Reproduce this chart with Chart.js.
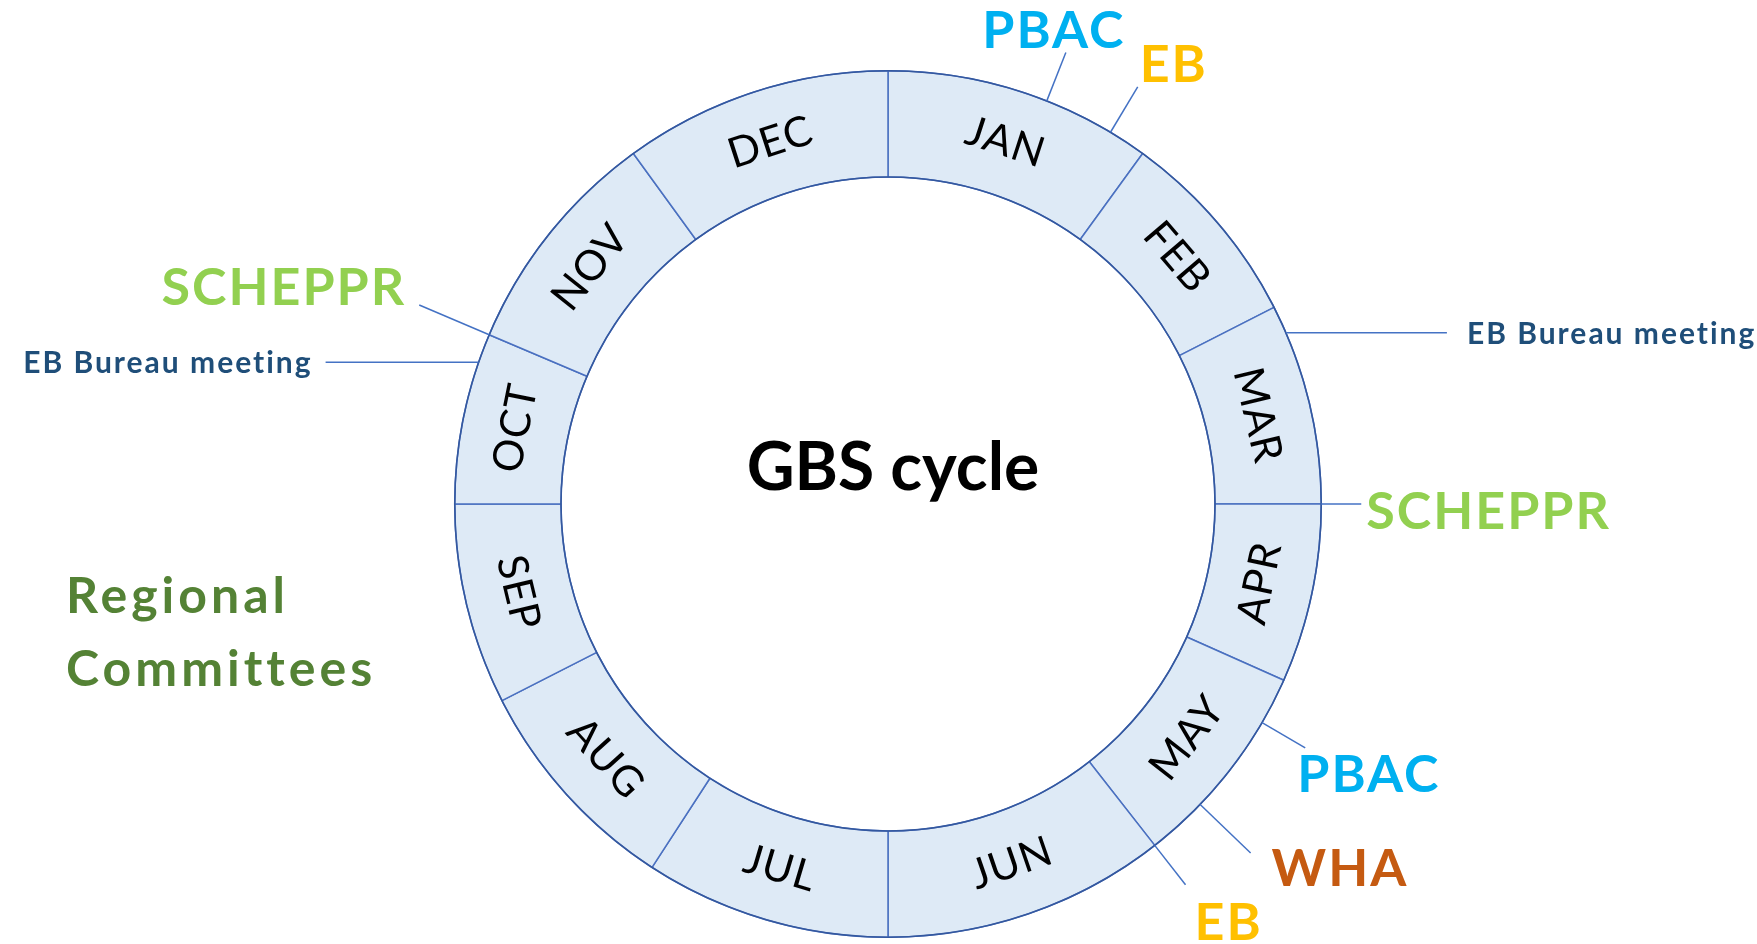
<!DOCTYPE html>
<html>
<head>
<meta charset="utf-8">
<title>GBS cycle</title>
<script src="https://cdn.jsdelivr.net/npm/chart.js@4.4.1/dist/chart.umd.min.js"></script>
<style>
    html, body { margin: 0; padding: 0; background: #ffffff; }
    #wrap { width: 1757px; height: 944px; position: relative; }
</style>
</head>
<body>
<div id="wrap"><canvas id="cycleChart" width="1757" height="944"></canvas></div>
<script>
// Months of the cycle and the share of the ring (degrees) each one takes
const months = ['JAN', 'FEB', 'MAR', 'APR', 'MAY', 'JUN', 'JUL', 'AUG', 'SEP', 'OCT', 'NOV', 'DEC'];
const monthSpans = [36, 27, 27, 24, 28, 38, 33, 30, 27, 23, 31, 36];

// Events and where they sit on the cycle (degrees clockwise from the top)
const eventNames = ['PBAC', 'EB', 'EB Bureau meeting', 'SCHEPPR', 'PBAC', 'WHA', 'EB', 'SCHEPPR', 'EB Bureau meeting'];
const eventAngles = [21.5, 30.9, 66.7, 90, 120.3, 133.9, 142, 293, 289.1];

const centerTitle = 'GBS cycle';
const sideNote = ['Regional', 'Committees'];

// How each event label is drawn (leader line and text placement)
const eventStyles = [
    { color: '#00B0F0', size: 52, leader: 'radial', len: 52, align: 'center', dx: -12, dy: -5 },
    { color: '#FFC000', size: 52, leader: 'radial', len: 53, align: 'left', dx: 2, dy: -5 },
    { color: '#1F4E79', size: 30, leader: 'right', len: 161, align: 'left', dx: 20, dy: 11 },
    { color: '#92D050', size: 52, leader: 'right', len: 40, align: 'left', dx: 5, dy: 25 },
    { color: '#00B0F0', size: 52, leader: 'radial', len: 50, align: 'left', dx: -8, dy: 44 },
    { color: '#C55A11', size: 52, leader: 'radial', len: 70, align: 'left', dx: 21, dy: 33 },
    { color: '#FFC000', size: 52, leader: 'radial', len: 50, align: 'left', dx: 9, dy: 55 },
    { color: '#92D050', size: 52, leader: 'radial', len: 76, align: 'right', dx: -13, dy: 0 },
    { color: '#1F4E79', size: 30, leader: 'left', len: 153, align: 'right', dx: -13, dy: 11 }
];

const cycleDecor = {
    id: 'cycleDecor',
    afterDatasetsDraw(chart) {
        // darker rim on the outer and inner edge of the ring
        const ctx = chart.ctx;
        const arc = chart.getDatasetMeta(0).data[0];
        const p = arc.getProps(['x', 'y', 'innerRadius', 'outerRadius'], true);
        ctx.save();
        ctx.strokeStyle = '#34589F';
        ctx.lineWidth = 1.6;
        ctx.beginPath();
        ctx.arc(p.x, p.y, p.outerRadius, 0, Math.PI * 2);
        ctx.stroke();
        ctx.beginPath();
        ctx.arc(p.x, p.y, p.innerRadius, 0, Math.PI * 2);
        ctx.stroke();
        ctx.restore();
    },
    afterDraw(chart) {
        const ctx = chart.ctx;
        const meta = chart.getDatasetMeta(0);
        let cx = 0, cy = 0, outer = 0;

        // month names, turned along the ring
        meta.data.forEach(function(arc, i) {
            const p = arc.getProps(['x', 'y', 'startAngle', 'endAngle', 'innerRadius', 'outerRadius'], true);
            cx = p.x; cy = p.y; outer = p.outerRadius;
            const mid = (p.startAngle + p.endAngle) / 2;
            const r = (p.innerRadius + p.outerRadius) / 2;
            let theta = mid + Math.PI / 2;
            theta = ((theta % (2 * Math.PI)) + 2 * Math.PI) % (2 * Math.PI);
            let rot = theta;
            if (theta > Math.PI / 2 && theta < 3 * Math.PI / 2) rot = theta - Math.PI;
            ctx.save();
            ctx.translate(p.x + Math.cos(mid) * r, p.y + Math.sin(mid) * r);
            ctx.rotate(rot);
            ctx.fillStyle = '#000000';
            ctx.font = '42px Lato';
            ctx.letterSpacing = '1px';
            ctx.textAlign = 'center';
            ctx.textBaseline = 'middle';
            ctx.fillText(months[i], 0, 0);
            ctx.restore();
        });

        // title in the middle
        ctx.save();
        ctx.fillStyle = '#000000';
        ctx.font = 'bold 66px Lato';
        ctx.textAlign = 'center';
        ctx.textBaseline = 'alphabetic';
        ctx.fillText(centerTitle, cx + 5, cy - 14);
        ctx.restore();

        // events with their leader lines
        eventNames.forEach(function(name, i) {
            const st = eventStyles[i];
            const a = eventAngles[i] * Math.PI / 180;
            const sx = cx + Math.sin(a) * outer;
            const sy = cy - Math.cos(a) * outer;
            let ex = sx, ey = sy;
            if (st.leader === 'radial') {
                ex = cx + Math.sin(a) * (outer + st.len);
                ey = cy - Math.cos(a) * (outer + st.len);
            } else if (st.leader === 'right') {
                ex = sx + st.len;
            } else {
                ex = sx - st.len;
            }
            ctx.save();
            ctx.strokeStyle = '#4472C4';
            ctx.lineWidth = 1.5;
            ctx.beginPath();
            ctx.moveTo(sx, sy);
            ctx.lineTo(ex, ey);
            ctx.stroke();
            ctx.fillStyle = st.color;
            ctx.font = 'bold ' + st.size + 'px Lato';
            ctx.letterSpacing = '2px';
            ctx.textAlign = st.align;
            ctx.textBaseline = 'alphabetic';
            ctx.fillText(name, ex + st.dx, ey + st.dy);
            ctx.restore();
        });

        // note on the left
        ctx.save();
        ctx.fillStyle = '#548235';
        ctx.font = 'bold 50px Lato';
        ctx.letterSpacing = '4px';
        ctx.textAlign = 'left';
        ctx.textBaseline = 'alphabetic';
        ctx.fillText(sideNote[0], 66, 613);
        ctx.fillText(sideNote[1], 66, 686);
        ctx.restore();
    }
};

document.addEventListener('DOMContentLoaded', function() {
    const ctx = document.getElementById('cycleChart').getContext('2d');
    const cycleChart = new Chart(ctx, {
        type: 'doughnut',
        data: {
            labels: months,
            datasets: [{
                data: monthSpans,
                backgroundColor: '#DEEAF6',
                borderColor: '#4A70C0',
                borderWidth: 1.5,
                hoverOffset: 0
            }]
        },
        options: {
            responsive: false,
            animation: false,
            events: [],
            cutout: 327,
            layout: {
                padding: { top: 70, bottom: 6, left: 454, right: 435 }
            },
            plugins: {
                legend: { display: false },
                tooltip: { enabled: false }
            }
        },
        plugins: [cycleDecor]
    });
});
</script>
</body>
</html>
